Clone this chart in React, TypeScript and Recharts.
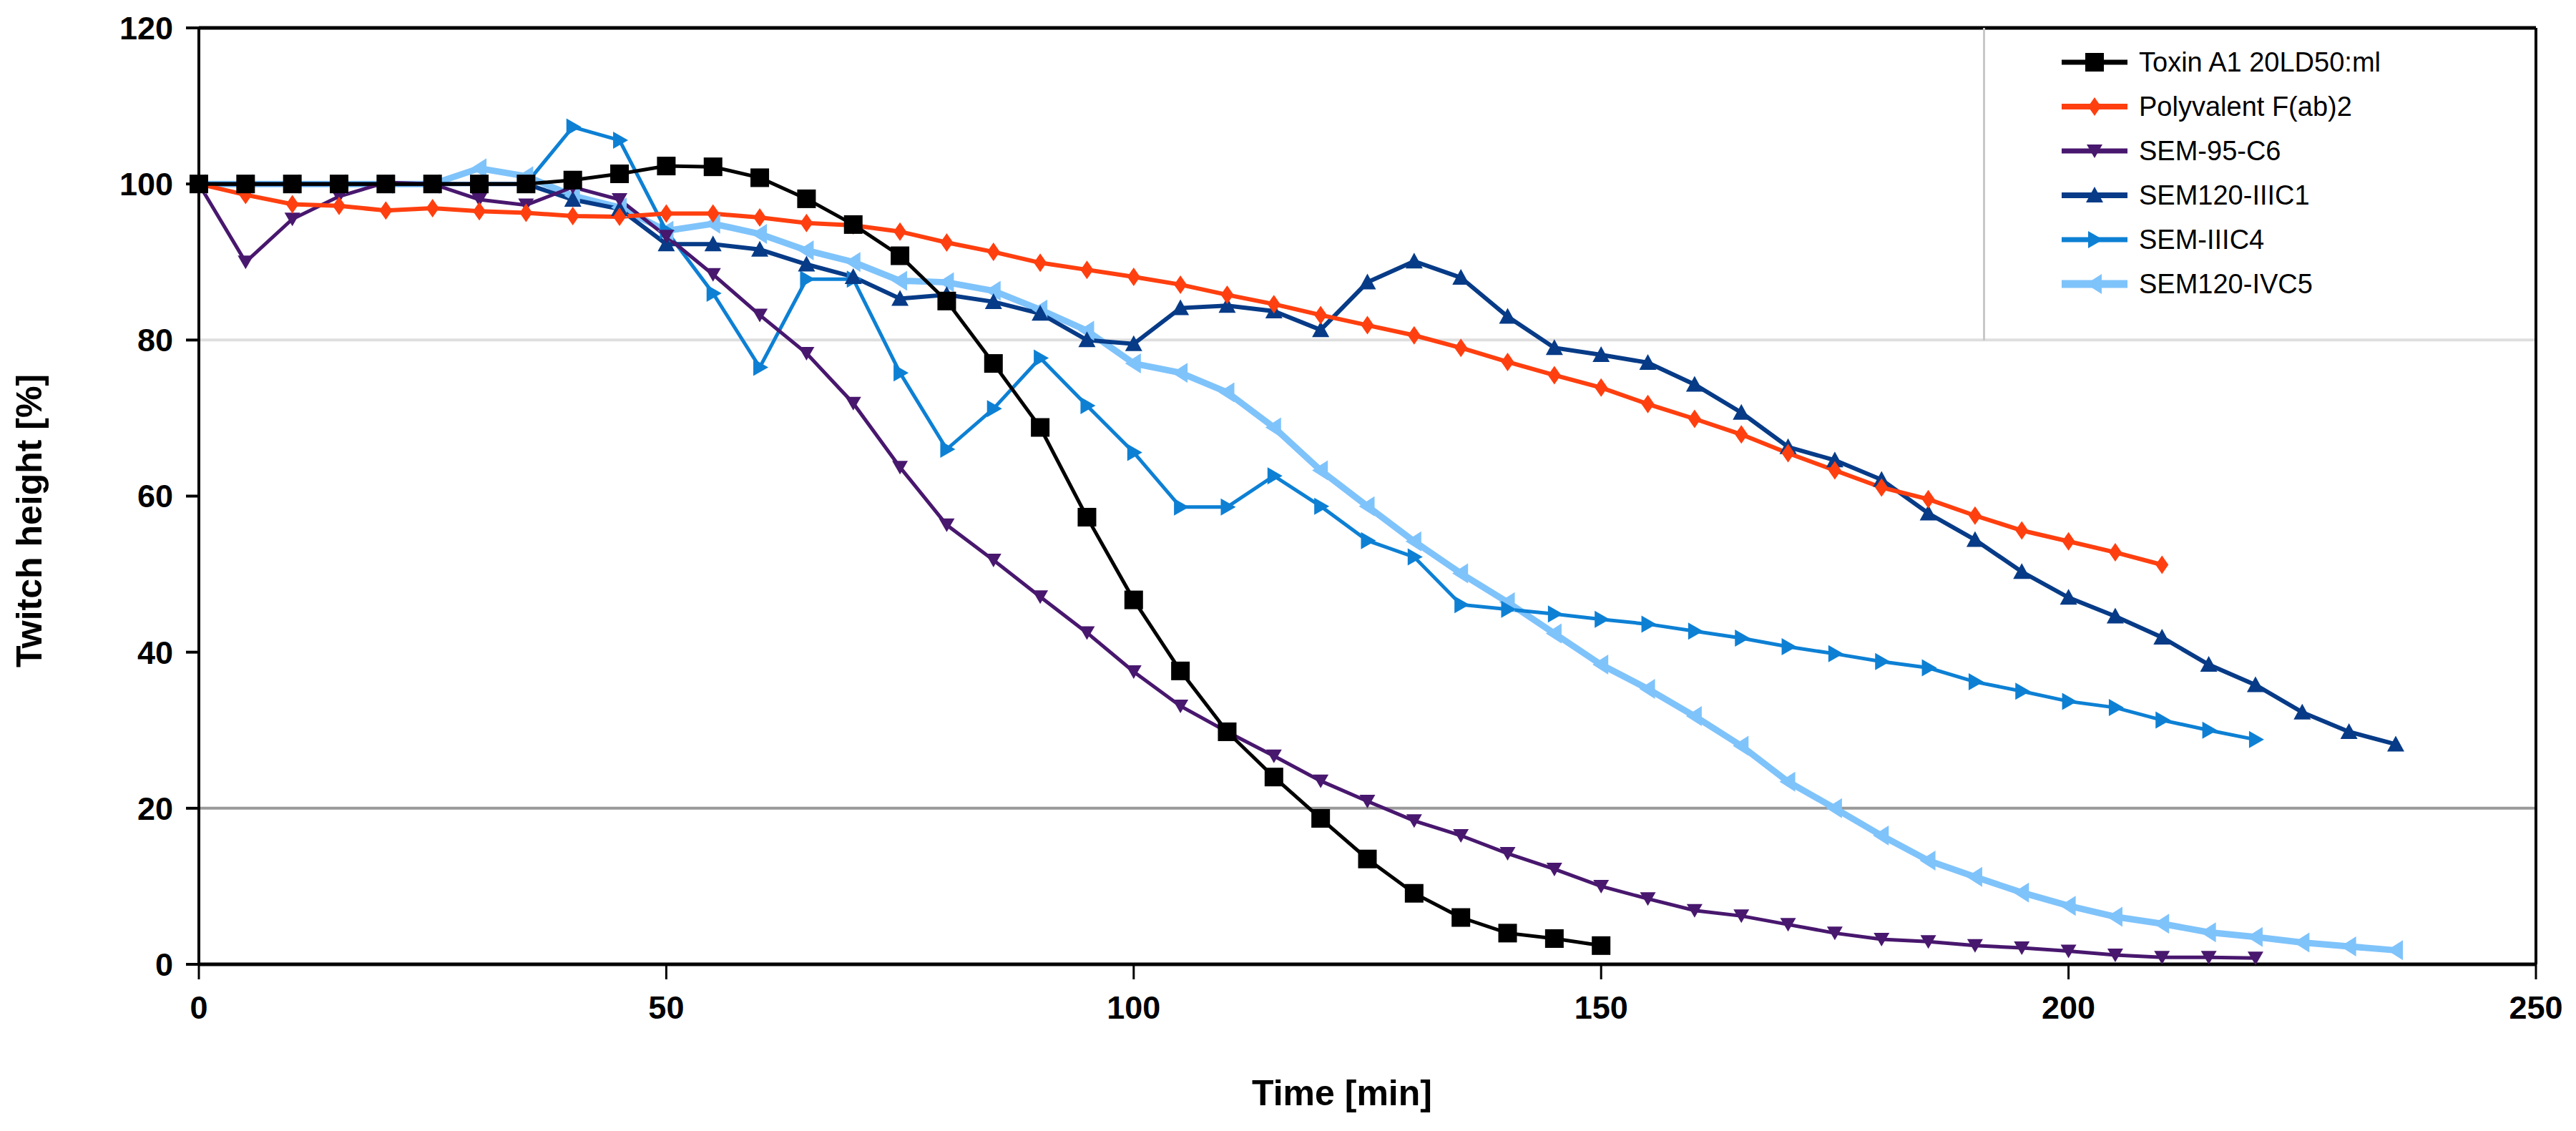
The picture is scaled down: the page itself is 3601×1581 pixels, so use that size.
import React from 'react'
import { LineChart, Line, XAxis, YAxis, ReferenceLine, Legend } from 'recharts'

const FONT = '"Liberation Sans", Arial, Helvetica, sans-serif'

// time points [min]
const times = [
  0, 5, 10, 15, 20, 25, 30, 35, 40, 45, 50, 55, 60, 65, 70, 75, 80, 85, 90, 95,
  100, 105, 110, 115, 120, 125, 130, 135, 140, 145, 150, 155, 160, 165, 170, 175,
  180, 185, 190, 195, 200, 205, 210, 215, 220, 225, 230, 235,
]

const toxinA1 = [
  100, 100, 100, 100, 100, 100, 100, 100, 100.5, 101.3, 102.3, 102.2, 100.8, 98.1, 94.8, 90.8,
  85, 77, 68.8, 57.3, 46.7, 37.6, 29.8, 24, 18.7, 13.5, 9.1, 6, 4, 3.3, 2.4,
]

const polyvalent = [
  100, 98.6, 97.4, 97.2, 96.6, 96.9, 96.5, 96.3, 95.9, 95.8, 96.2, 96.2, 95.7, 95, 94.7, 93.9,
  92.5, 91.3, 89.9, 89, 88.1, 87.1, 85.8, 84.6, 83.2, 81.9, 80.6, 79, 77.2, 75.5, 73.9, 71.8,
  69.9, 67.9, 65.5, 63.3, 61.1, 59.6, 57.5, 55.6, 54.2, 52.8, 51.2,
]

const sem95C6 = [
  100, 90, 95.5, 98.4, 100.2, 100, 98, 97.3, 99.6, 98, 93.3, 88.4, 83.2, 78.3, 71.9, 63.7,
  56.3, 51.8, 47.1, 42.5, 37.5, 33.1, 29.8, 26.7, 23.5, 20.9, 18.4, 16.5, 14.2, 12.2, 10, 8.4,
  6.9, 6.2, 5.1, 4, 3.2, 2.9, 2.4, 2.1, 1.7, 1.2, 0.9, 0.9, 0.8,
]

const sem120IIIC1 = [
  100, 100, 100, 100, 100, 100, 100, 100, 98, 96.8, 92.3, 92.3, 91.6, 89.7, 88.1, 85.3,
  85.8, 84.9, 83.4, 80, 79.5, 84.1, 84.4, 83.7, 81.3, 87.4, 90.1, 88, 83, 79, 78.1, 77.1,
  74.3, 70.7, 66.3, 64.6, 62.1, 57.8, 54.4, 50.3, 47, 44.6, 41.9, 38.4, 35.8, 32.3, 29.8, 28.2,
]

const semIIIC4 = [
  100, 100, 100, 100, 100, 100, 100, 100, 107.3, 105.6, 94, 86, 76.5, 87.8, 87.8, 75.8,
  66, 71.2, 77.7, 71.6, 65.6, 58.6, 58.6, 62.6, 58.7, 54.3, 52.2, 46.1, 45.5, 44.9, 44.2, 43.6,
  42.7, 41.8, 40.7, 39.8, 38.8, 38, 36.2, 35, 33.7, 32.9, 31.3, 30, 28.8,
]

const sem120IVC5 = [
  100, 100, 100, 100, 100, 100, 102, 101, 98.5, 97, 94, 94.9, 93.6, 91.5, 90, 87.6,
  87.4, 86.3, 83.9, 81.2, 77, 75.8, 73.3, 68.8, 63.3, 58.7, 54.2, 50.1, 46.4, 42.4, 38.4, 35.3,
  31.8, 28, 23.4, 20, 16.5, 13.3, 11.2, 9.2, 7.5, 6.1, 5.2, 4.1, 3.5, 2.8, 2.3, 1.8,
]

const xTicks = [0, 50, 100, 150, 200, 250]
const yTicks = [0, 20, 40, 60, 80, 100, 120]

const data = times.map((t, i) => ({
  t,
  toxin: toxinA1[i],
  poly: polyvalent[i],
  c6: sem95C6[i],
  c1: sem120IIIC1[i],
  c4: semIIIC4[i],
  c5: sem120IVC5[i],
}))

type Shape = 'square' | 'diamond' | 'down' | 'up' | 'right' | 'left'

// legend order
const series: { key: string; name: string; color: string; width: number; shape: Shape }[] = [
  { key: 'toxin', name: 'Toxin A1 20LD50:ml', color: '#000000', width: 5, shape: 'square' },
  { key: 'poly', name: 'Polyvalent F(ab)2', color: '#ff3f0f', width: 6, shape: 'diamond' },
  { key: 'c6', name: 'SEM-95-C6', color: '#48176e', width: 5, shape: 'down' },
  { key: 'c1', name: 'SEM120-IIIC1', color: '#073b87', width: 6, shape: 'up' },
  { key: 'c4', name: 'SEM-IIIC4', color: '#0d80d4', width: 5, shape: 'right' },
  { key: 'c5', name: 'SEM120-IVC5', color: '#7fc3fb', width: 9, shape: 'left' },
]

// draw order: black on top
const drawOrder = ['c5', 'c4', 'c1', 'c6', 'poly', 'toxin']

function Marker({ cx, cy, shape, color }: { cx: number; cy: number; shape: Shape; color: string }) {
  switch (shape) {
    case 'square':
      return <rect x={cx - 13} y={cy - 13} width={26} height={26} fill={color} />
    case 'diamond':
      return <polygon points={`${cx},${cy - 13} ${cx + 9},${cy} ${cx},${cy + 13} ${cx - 9},${cy}`} fill={color} />
    case 'down':
      return <polygon points={`${cx - 11},${cy - 9} ${cx + 11},${cy - 9} ${cx},${cy + 10}`} fill={color} />
    case 'up':
      return <polygon points={`${cx - 12},${cy + 10} ${cx + 12},${cy + 10} ${cx},${cy - 12}`} fill={color} />
    case 'right':
      return <polygon points={`${cx - 9},${cy - 12} ${cx - 9},${cy + 12} ${cx + 12},${cy}`} fill={color} />
    case 'left':
      return <polygon points={`${cx + 10},${cy - 14} ${cx + 10},${cy + 14} ${cx - 12},${cy}`} fill={color} />
  }
  return null
}

function LegendBox() {
  return (
    <div style={{ paddingTop: 17, fontFamily: FONT }}>
      {series.map((s) => (
        <div key={s.key} style={{ display: 'flex', alignItems: 'center', height: 62 }}>
          <svg width={215} height={62} style={{ flex: 'none' }}>
            <line x1={107} x2={199} y1={31} y2={31} stroke={s.color} strokeWidth={s.width + 2} />
            <Marker cx={153} cy={31} shape={s.shape} color={s.color} />
          </svg>
          <span style={{ fontSize: 38, color: '#000', whiteSpace: 'nowrap' }}>{s.name}</span>
        </div>
      ))}
    </div>
  )
}

export default function App() {
  const lines = drawOrder.map((k) => series.find((s) => s.key === k)!)
  return (
    <LineChart
      width={3585}
      height={1565}
      data={data}
      margin={{ top: 31, right: 48, bottom: 0, left: 0 }}
      style={{ background: '#fff' }}
    >
      <XAxis
        dataKey="t"
        type="number"
        domain={[0, 250]}
        ticks={xTicks}
        axisLine={{ stroke: '#000', strokeWidth: 5 }}
        tickLine={{ stroke: '#000', strokeWidth: 3 }}
        tickSize={21}
        tickMargin={23}
        height={225}
        tick={{ fill: '#000', fontSize: 45, fontWeight: 'bold', fontFamily: FONT }}
        label={() => (
          <text x={1868} y={1537} textAnchor="middle" fontSize={50} fontWeight="bold" fontFamily={FONT} fill="#000">
            Time [min]
          </text>
        )}
      />
      <YAxis
        type="number"
        domain={[0, 120]}
        ticks={yTicks}
        width={270}
        axisLine={{ stroke: '#000', strokeWidth: 4 }}
        tickLine={{ stroke: '#000', strokeWidth: 4 }}
        tickSize={18}
        tickMargin={18}
        tick={{ fill: '#000', fontSize: 45, fontWeight: 'bold', fontFamily: FONT }}
        label={() => (
          <text
            x={50}
            y={720}
            transform="rotate(-90 50 720)"
            textAnchor="middle"
            fontSize={50}
            fontWeight="bold"
            fontFamily={FONT}
            fill="#000"
          >
            Twitch height [%]
          </text>
        )}
      />
      <ReferenceLine y={80} stroke="#dedede" strokeWidth={4} />
      <ReferenceLine y={20} stroke="#999999" strokeWidth={4} />
      <ReferenceLine y={120} stroke="#000" strokeWidth={5} />
      <ReferenceLine x={250} stroke="#000" strokeWidth={4} />
      <Legend
        layout="vertical"
        align="center"
        verticalAlign="middle"
        content={<LegendBox />}
        wrapperStyle={{
          left: 2764,
          top: 31,
          width: 773,
          height: 437,
          borderLeft: '3px solid #c8c8c8',
          boxSizing: 'border-box',
        }}
      />
      {lines.map((s) => (
        <Line
          key={s.key}
          dataKey={s.key}
          name={s.name}
          stroke={s.color}
          strokeWidth={s.width}
          type="linear"
          isAnimationActive={false}
          dot={(p: any) =>
            p.cy == null || p.cx == null ? (
              <g key={`${s.key}-${p.index}`} />
            ) : (
              <Marker key={`${s.key}-${p.index}`} cx={p.cx} cy={p.cy} shape={s.shape} color={s.color} />
            )
          }
          activeDot={false}
        />
      ))}
    </LineChart>
  )
}
